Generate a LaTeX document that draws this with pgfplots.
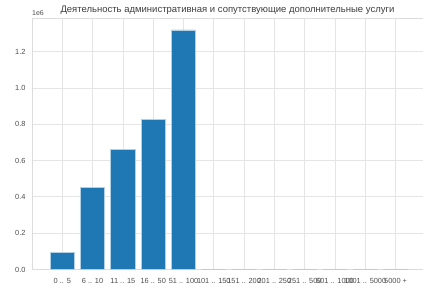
\documentclass[border=0pt]{standalone}
\usepackage{pgfplots}
\pgfplotsset{compat=1.18}
\usepackage{fontspec}
\setmainfont{Liberation Sans}
\definecolor{barblue}{HTML}{1F77B4}
\definecolor{gridc}{HTML}{E5E5E5}
\definecolor{spinec}{HTML}{DCDCDC}
\definecolor{txtc}{HTML}{4D4D4D}
\begin{document}
\begin{tikzpicture}[x=1pt,y=1pt]
\path[use as bounding box] (0,0) rectangle (423,297);
\begin{axis}[
  at={(32pt,27.5pt)}, anchor=south west,
  scale only axis, width=393pt, height=251.2pt,
  xmin=-1, xmax=11.97, ymin=0, ymax=1.384,
  xtick={0,...,11},
  xticklabels={0 .. 5,6 .. 10,11 .. 15,16 .. 50,51 .. 100,101 .. 150,151 .. 200,201 .. 250,251 .. 500,501 .. 1000,1001 .. 5000,5000 +},
  ytick={0,0.2,0.4,0.6,0.8,1.0,1.2},
  yticklabels={0.0,0.2,0.4,0.6,0.8,1.0,1.2},
  major tick length=0pt,
  xmajorgrids, ymajorgrids,
  grid style={gridc, line width=0.8pt},
  axis line style={spinec, line width=0.9pt},
  tick label style={font=\fontsize{7.4}{8}\selectfont, text=txtc},
  xticklabel style={yshift=-5.5pt},
  yticklabel style={xshift=-3pt},
  axis on top=false,
  clip=false,
]
\addplot[ybar, bar width=0.8, fill=barblue, draw=barblue!35!white, line width=0.6pt] coordinates {
(0,0.095) (1,0.451) (2,0.662) (3,0.828) (4,1.32)
(5,0) (6,0) (7,0) (8,0) (9,0) (10,0) (11,0)
};
\node[anchor=south west, font=\fontsize{7}{7}\selectfont, text=txtc, inner sep=0pt] at (rel axis cs:0,1) [yshift=3pt] {1e6};
\node[anchor=south, font=\fontsize{9.5}{10}\selectfont, text=txtc!80!black, inner sep=0pt] at (axis cs:5.45,1.384) [yshift=3.5pt] {Деятельность административная и сопутствующие дополнительные услуги};
\end{axis}
\end{tikzpicture}
\end{document}
